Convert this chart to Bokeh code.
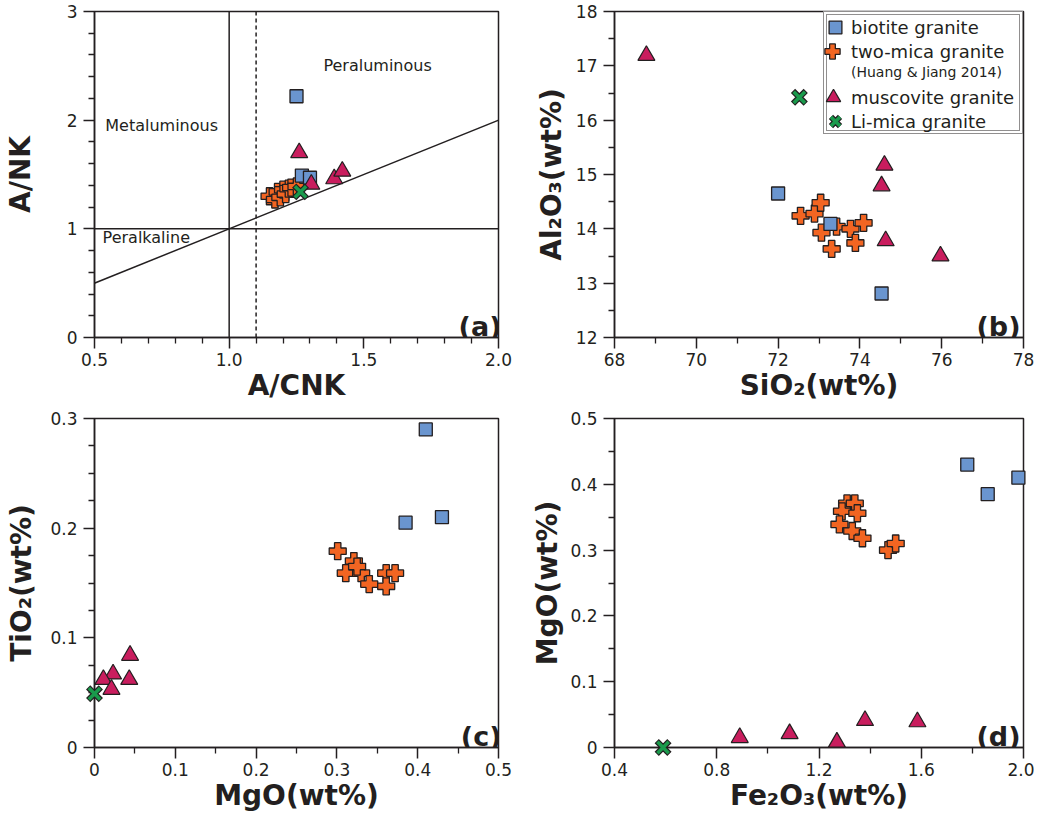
from bokeh.plotting import figure
from bokeh.layouts import gridplot
from bokeh.models import FixedTicker, Span, Slope, Label, Legend, LegendItem
from bokeh.embed import file_html
from bokeh.resources import INLINE

# ---------------- data ----------------
# (a) A/CNK vs A/NK
a_bio_x = [1.25, 1.27, 1.30]
a_bio_y = [2.22, 1.49, 1.47]
a_two_x = [1.15, 1.17, 1.18, 1.19, 1.20, 1.21, 1.22, 1.23, 1.25]
a_two_y = [1.30, 1.27, 1.34, 1.29, 1.36, 1.32, 1.37, 1.38, 1.39]
a_mus_x = [1.26, 1.305, 1.39, 1.42]
a_mus_y = [1.70, 1.41, 1.46, 1.53]
a_li_x = [1.265]
a_li_y = [1.34]

# (b) SiO2 vs Al2O3
b_bio_x = [72.0, 73.28, 74.53]
b_bio_y = [14.65, 14.09, 12.81]
b_two_x = [72.55, 72.89, 73.04, 73.06, 73.31, 73.43, 73.77, 73.89, 74.09]
b_two_y = [14.24, 14.28, 14.48, 13.93, 13.63, 14.04, 14.00, 13.74, 14.11]
b_mus_x = [68.78, 74.60, 74.53, 74.63, 75.97]
b_mus_y = [17.19, 15.17, 14.79, 13.78, 13.50]
b_li_x = [72.52]
b_li_y = [16.42]

# (c) MgO vs TiO2
c_bio_x = [0.41, 0.385, 0.43]
c_bio_y = [0.290, 0.205, 0.210]
c_two_x = [0.301, 0.321, 0.311, 0.330, 0.340, 0.361, 0.372, 0.361, 0.325]
c_two_y = [0.179, 0.170, 0.159, 0.159, 0.149, 0.159, 0.159, 0.147, 0.165]
c_mus_x = [0.023, 0.011, 0.043, 0.021, 0.044]
c_mus_y = [0.067, 0.062, 0.062, 0.053, 0.084]
c_li_x = [0.0]
c_li_y = [0.049]

# (d) Fe2O3 vs MgO
d_bio_x = [1.78, 1.86, 1.98]
d_bio_y = [0.430, 0.385, 0.410]
d_two_x = [1.31, 1.34, 1.29, 1.35, 1.28, 1.33, 1.37, 1.47, 1.50]
d_two_y = [0.371, 0.371, 0.359, 0.356, 0.339, 0.329, 0.318, 0.300, 0.310]
d_mus_x = [0.89, 1.085, 1.27, 1.38, 1.585]
d_mus_y = [0.015, 0.021, 0.008, 0.041, 0.039]
d_li_x = [0.59]
d_li_y = [0.0]

# reference lines of panel (a)
a_vline = 1.0
a_dash = 1.1
a_hline = 1.0
a_slope = 1.0

# ticks
a_xticks = [0.5, 1, 1.5, 2]
a_xlabels = ["0.5", "1.0", "1.5", "2.0"]
a_xminor = [0.6, 0.7, 0.8, 0.9, 1.1, 1.2, 1.3, 1.4, 1.6, 1.7, 1.8, 1.9]
a_yticks = [0, 1, 2, 3]
a_ylabels = ["0", "1", "2", "3"]
a_yminor = [0.2, 0.4, 0.6, 0.8, 1.2, 1.4, 1.6, 1.8, 2.2, 2.4, 2.6, 2.8]

b_xticks = [68, 70, 72, 74, 76, 78]
b_xlabels = ["68", "70", "72", "74", "76", "78"]
b_xminor = [69, 71, 73, 75, 77]
b_yticks = [12, 13, 14, 15, 16, 17, 18]
b_ylabels = ["12", "13", "14", "15", "16", "17", "18"]
b_yminor = [12.5, 13.5, 14.5, 15.5, 16.5, 17.5]

c_xticks = [0, 0.1, 0.2, 0.3, 0.4, 0.5]
c_xlabels = ["0", "0.1", "0.2", "0.3", "0.4", "0.5"]
c_xminor = [0.05, 0.15, 0.25, 0.35, 0.45]
c_yticks = [0, 0.1, 0.2, 0.3]
c_ylabels = ["0", "0.1", "0.2", "0.3"]
c_yminor = [0.025, 0.05, 0.075, 0.125, 0.15, 0.175, 0.225, 0.25, 0.275]

d_xticks = [0.4, 0.8, 1.2, 1.6, 2]
d_xlabels = ["0.4", "0.8", "1.2", "1.6", "2.0"]
d_xminor = [0.6, 1.0, 1.4, 1.8]
d_yticks = [0, 0.1, 0.2, 0.3, 0.4, 0.5]
d_ylabels = ["0", "0.1", "0.2", "0.3", "0.4", "0.5"]
d_yminor = [0.05, 0.15, 0.25, 0.35, 0.45]

legend_labels = ["biotite granite", "two-mica granite", "muscovite granite", "Li-mica granite"]
legend_note = "(Huang & Jiang 2014)"

# ---------------- style ----------------
EDGE = "#231f20"
BIO = "#6a95cf"
TWO = "#f26522"
MUS = "#c91d5e"
LI = "#1a9a4c"
FONT = "DejaVu Sans"


def make_fig(w, h, xr, yr, left, right, top, bottom):
    p = figure(width=w, height=h, x_range=xr, y_range=yr,
               output_backend="svg", toolbar_location=None,
               min_border_left=left, min_border_right=right,
               min_border_top=top, min_border_bottom=bottom)
    p.xgrid.visible = False
    p.ygrid.visible = False
    p.outline_line_color = EDGE
    p.outline_line_width = 1.5
    p.outline_line_alpha = 1.0
    p.background_fill_color = "white"
    p.border_fill_color = "white"
    return p


def style_axes(p, xt, xl, xm, yt, yl, ym, xlabel, ylabel, yals):
    p.xaxis.ticker = FixedTicker(ticks=xt, minor_ticks=xm)
    p.yaxis.ticker = FixedTicker(ticks=yt, minor_ticks=ym)
    p.xaxis.major_label_overrides = dict(zip(xt, xl))
    p.yaxis.major_label_overrides = dict(zip(yt, yl))
    p.xaxis.axis_label = xlabel
    p.yaxis.axis_label = ylabel
    for ax in (p.xaxis[0], p.yaxis[0]):
        ax.axis_line_color = EDGE
        ax.axis_line_width = 1.5
        ax.major_tick_line_color = EDGE
        ax.major_tick_line_width = 1.5
        ax.minor_tick_line_color = EDGE
        ax.minor_tick_line_width = 1.3
        ax.major_tick_out = 11
        ax.major_tick_in = 0
        ax.minor_tick_out = 6
        ax.minor_tick_in = 0
        ax.major_label_text_font = FONT
        ax.major_label_text_font_size = "17px"
        ax.major_label_text_color = EDGE
        ax.axis_label_text_font = FONT
        ax.axis_label_text_font_size = "28px"
        ax.axis_label_text_font_style = "bold"
        ax.axis_label_text_color = EDGE
    p.xaxis.major_label_standoff = 4
    p.xaxis.axis_label_standoff = 0
    p.yaxis.major_label_standoff = 6
    p.yaxis.axis_label_standoff = yals


def draw_points(p, bx, by, tx, ty, mx, my, lx, ly):
    r_two = p.scatter(tx, ty, marker="plus", size=17, fill_color=TWO,
                      line_color=EDGE, line_width=1.3, level="overlay")
    r_bio = p.scatter(bx, by, marker="square", size=13, fill_color=BIO,
                      line_color=EDGE, line_width=1.3, level="overlay")
    r_mus = p.scatter(mx, my, marker="triangle", size=17, fill_color=MUS,
                      line_color=EDGE, line_width=1.2, level="overlay")
    r_lik = p.scatter(lx, ly, marker="x", size=18, line_color=EDGE,
                      line_width=6, level="overlay")
    r_lig = p.scatter(lx, ly, marker="x", size=16, line_color=LI,
                      line_width=3.5, level="overlay")
    return r_bio, r_two, r_mus, r_lik, r_lig


def panel_tag(p, text, frame_w):
    p.add_layout(Label(x=frame_w - 3, y=11, x_units="screen", y_units="screen",
                       text=text, text_align="right", text_baseline="alphabetic",
                       text_font=FONT, text_font_size="27px", text_font_style="bold",
                       text_color=EDGE))


# ---------------- panel (a) ----------------
pa = make_fig(522, 406, (0.5, 2.0), (0, 3), 88, 24, 11, 69)
style_axes(pa, a_xticks, a_xlabels, a_xminor, a_yticks, a_ylabels, a_yminor,
           "A/CNK", "A/NK", 27)
pa.add_layout(Span(location=a_vline, dimension="height", line_color=EDGE, line_width=1.5))
pa.add_layout(Span(location=a_hline, dimension="width", line_color=EDGE, line_width=1.5))
pa.add_layout(Span(location=a_dash, dimension="height", line_color=EDGE, line_width=1.5,
                   line_dash="4 3"))
pa.add_layout(Slope(gradient=a_slope, y_intercept=0, line_color=EDGE, line_width=1.5))
for txt, x, y in [("Metaluminous", 0.54, 1.95), ("Peraluminous", 1.35, 2.50),
                  ("Peralkaline", 0.53, 0.92)]:
    pa.add_layout(Label(x=x, y=y, text=txt, text_align="left", text_baseline="middle",
                        text_font=FONT, text_font_size="16px", text_color=EDGE))
draw_points(pa, a_bio_x, a_bio_y, a_two_x, a_two_y, a_mus_x, a_mus_y, a_li_x, a_li_y)
panel_tag(pa, "(a)", 522 - 88 - 24)

# ---------------- panel (b) ----------------
PB_W, PB_H = 512, 406
PB_L, PB_R, PB_T, PB_B = 92, 11, 11, 69
FW = PB_W - PB_L - PB_R          # frame width
FH = PB_H - PB_T - PB_B          # frame height
pb = make_fig(PB_W, PB_H, (68, 78), (12, 18), PB_L, PB_R, PB_T, PB_B)
style_axes(pb, b_xticks, b_xlabels, b_xminor, b_yticks, b_ylabels, b_yminor,
           "SiO\u2082(wt%)", "Al\u2082O\u2083(wt%)", 5)
r_bio, r_two, r_mus, r_lik, r_lig = draw_points(pb, b_bio_x, b_bio_y, b_two_x, b_two_y,
                                                b_mus_x, b_mus_y, b_li_x, b_li_y)
dummy = pb.scatter(x=[], y=[], marker="square", size=1, fill_alpha=0, line_alpha=0)

# double frame of the legend: two empty legends of fixed size
inner_left = FW - 197
box_common = dict(spacing=0, glyph_width=22, glyph_height=23, label_height=20,
                  label_width=170, label_standoff=0, label_text_font_size="17px",
                  label_text_alpha=0, margin=0, border_line_color=EDGE,
                  border_line_width=1.2)
outer = Legend(items=[LegendItem(label=" ", renderers=[dummy]) for _ in range(5)],
               location=(inner_left - 3, FH - 123), padding=3,
               background_fill_color="white", background_fill_alpha=1.0, **box_common)
inner = Legend(items=[LegendItem(label=" ", renderers=[dummy]) for _ in range(5)],
               location=(inner_left, FH - 120), padding=0,
               background_fill_alpha=0.0, **box_common)
pb.add_layout(outer, "center")
pb.add_layout(inner, "center")

# legend entries (one legend per entry so that the keys can be larger)
entry_rends = [[r_bio], [r_two], [r_mus], [r_lik, r_lig]]
entry_rows = [16, 40, 86, 110]       # centre of each row, px below the frame top
entry_glyph = [32, 38, 36, 32]
LABEL_X = inner_left + 25
for lab, rs, row, gw in zip(legend_labels, entry_rends, entry_rows, entry_glyph):
    lg = Legend(items=[LegendItem(label=lab, renderers=rs)],
                location=(LABEL_X - gw, FH - row - gw / 2), padding=0, margin=0,
                spacing=0, glyph_width=gw, glyph_height=gw, label_standoff=0,
                label_height=20, label_text_font=FONT, label_text_font_size="18px",
                label_text_color=EDGE, border_line_alpha=0.0,
                background_fill_alpha=0.0)
    pb.add_layout(lg, "center")

# the reference note under "two-mica granite", as a legend entry without a key
note = Legend(items=[LegendItem(label=legend_note, renderers=[dummy])],
              location=(LABEL_X - 10, FH - 61 - 10), padding=0, margin=0,
              spacing=0, glyph_width=10, glyph_height=20, label_standoff=0,
              label_height=16, label_text_font=FONT, label_text_font_size="14px",
              label_text_color=EDGE, border_line_alpha=0.0,
              background_fill_alpha=0.0)
pb.add_layout(note, "center")
panel_tag(pb, "(b)", FW)

# ---------------- panel (c) ----------------
pc = make_fig(522, 409, (0, 0.5), (0, 0.3), 88, 24, 12, 68)
style_axes(pc, c_xticks, c_xlabels, c_xminor, c_yticks, c_ylabels, c_yminor,
           "MgO(wt%)", "TiO\u2082(wt%)", 9)
draw_points(pc, c_bio_x, c_bio_y, c_two_x, c_two_y, c_mus_x, c_mus_y, c_li_x, c_li_y)
panel_tag(pc, "(c)", 522 - 88 - 24)

# ---------------- panel (d) ----------------
pd = make_fig(512, 409, (0.4, 2.0), (0, 0.5), 92, 11, 12, 68)
style_axes(pd, d_xticks, d_xlabels, d_xminor, d_yticks, d_ylabels, d_yminor,
           "Fe\u2082O\u2083(wt%)", "MgO(wt%)", 3)
draw_points(pd, d_bio_x, d_bio_y, d_two_x, d_two_y, d_mus_x, d_mus_y, d_li_x, d_li_y)
panel_tag(pd, "(d)", 512 - 92 - 11)

grid = gridplot([[pa, pb], [pc, pd]], toolbar_location=None)

open("out.html", "w").write(file_html(grid, INLINE))
